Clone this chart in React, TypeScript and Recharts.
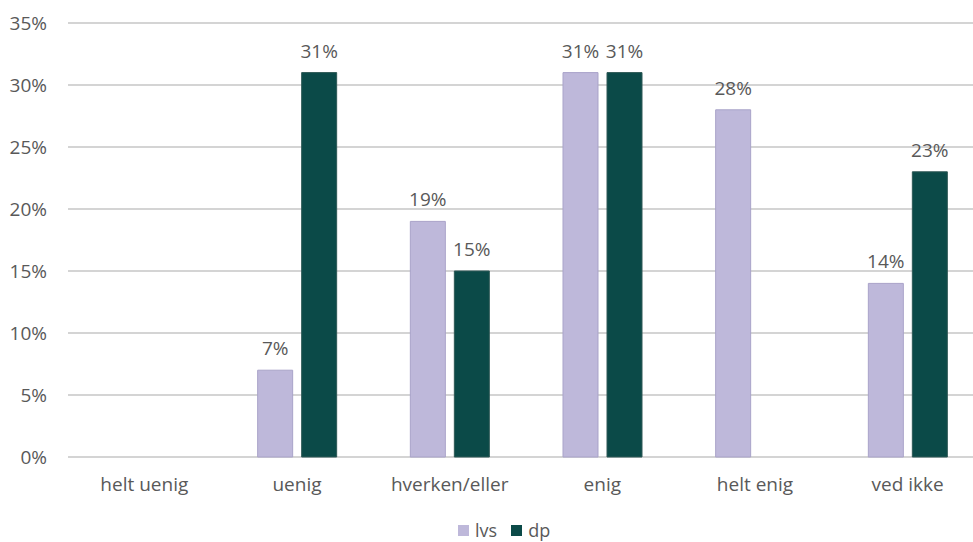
import React from 'react';
import { BarChart, Bar, XAxis, YAxis, CartesianGrid, Legend, LabelList } from 'recharts';

const categories = ['helt uenig', 'uenig', 'hverken/eller', 'enig', 'helt enig', 'ved ikke'];
const lvsValues = [0, 7, 19, 31, 28, 14];
const dpValues = [0, 31, 15, 31, 0, 23];
const yTicks = [0, 5, 10, 15, 20, 25, 30, 35];

const series = [
    { key: 'lvs', name: 'lvs', fill: '#BEB8DA', stroke: '#A9A3C9' },
    { key: 'dp', name: 'dp', fill: '#0B4A48', stroke: '#2E5856' },
];

const data = categories.map((name, i) => ({ name, lvs: lvsValues[i], dp: dpValues[i] }));

const FONT = '"Open Sans", "Noto Sans", sans-serif';
const TEXT = '#595959';

const CustomLegend = () => (
    <div style={{ position: 'relative', height: 35, fontFamily: FONT, fontSize: 18, color: TEXT }}>
        <div style={{ position: 'absolute', left: 458, top: 18, display: 'flex', alignItems: 'center' }}>
            {series.map(s => (
                <div key={s.key} style={{ display: 'flex', alignItems: 'center', marginRight: 14 }}>
                    <div style={{ width: 11, height: 11, backgroundColor: s.fill, marginRight: 6 }} />
                    <span style={{ lineHeight: '20px' }}>{s.name}</span>
                </div>
            ))}
        </div>
    </div>
);

export default function App() {
    const fmt = (v: any) => (v ? `${v}%` : '');
    return (
        <div style={{ width: 973, height: 542, overflow: 'hidden', background: '#fff' }}>
            <style>{`body{margin:0;overflow:hidden}`}</style>
            <BarChart
                width={984}
                height={542}
                data={data}
                margin={{ top: 23, right: 0, left: 0, bottom: 5 }}
                barSize={35}
                barGap={9}
            >
                <CartesianGrid vertical={false} stroke="#C6C6C6" strokeWidth={1.5} />
                <XAxis
                    dataKey="name"
                    axisLine={false}
                    tickLine={false}
                    tickSize={0}
                    tickMargin={21}
                    height={45}
                    interval={0}
                    tick={{ fill: TEXT, fontSize: 19, fontFamily: FONT }}
                />
                <YAxis
                    domain={[0, 35]}
                    ticks={yTicks}
                    tickFormatter={(v: number) => `${v}%`}
                    axisLine={false}
                    tickLine={false}
                    tickSize={0}
                    tickMargin={21}
                    width={68}
                    tick={{ fill: TEXT, fontSize: 19, fontFamily: FONT }}
                />
                <Legend
                    verticalAlign="bottom"
                    content={<CustomLegend />}
                    wrapperStyle={{ left: 0, width: 984, height: 35, bottom: 5 }}
                />
                {series.map(s => (
                    <Bar
                        key={s.key}
                        dataKey={s.key}
                        name={s.name}
                        fill={s.fill}
                        stroke={s.stroke}
                        strokeWidth={1}
                        isAnimationActive={false}
                    >
                        <LabelList
                            dataKey={s.key}
                            position="top"
                            offset={15}
                            formatter={fmt}
                            style={{ fill: TEXT, fontSize: 19, fontFamily: FONT }}
                        />
                    </Bar>
                ))}
            </BarChart>
        </div>
    );
}
